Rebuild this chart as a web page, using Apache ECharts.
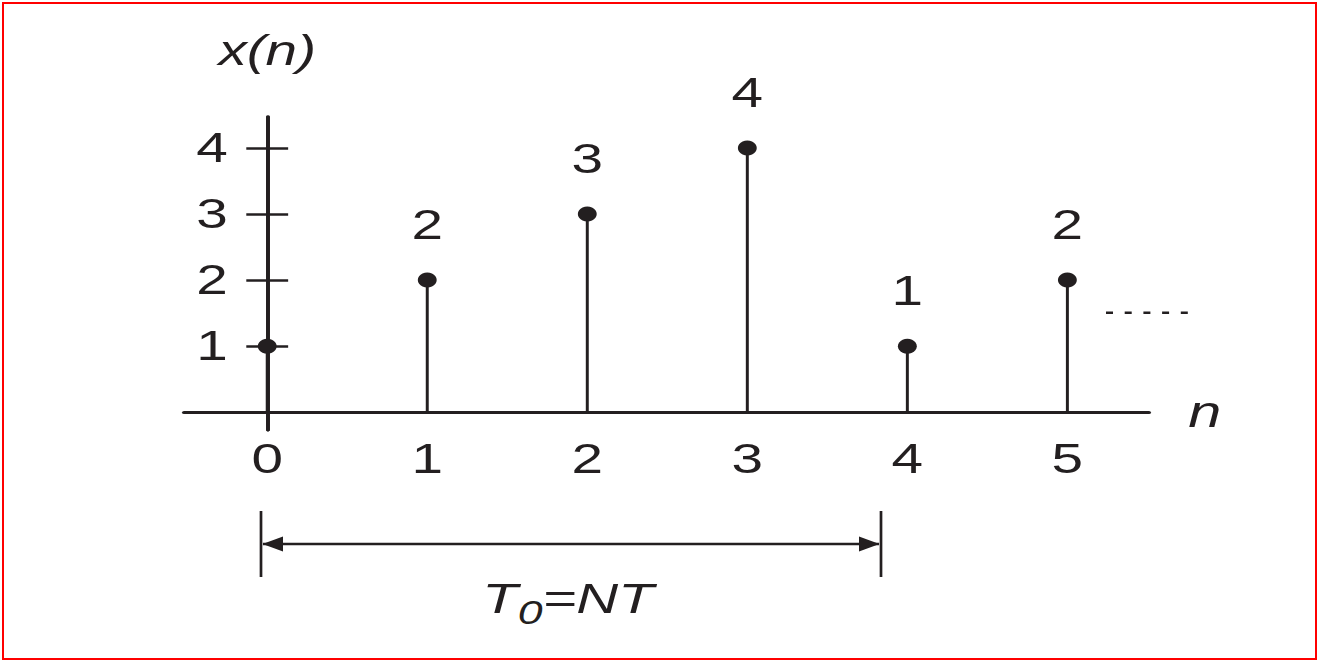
<!DOCTYPE html>
<html>
<head>
<meta charset="utf-8">
<title>x(n) stem plot</title>
<script src="https://cdn.jsdelivr.net/npm/echarts@6/dist/echarts.min.js"></script>
<style>
  html, body { margin: 0; padding: 0; background: #ffffff; }
  #chart { position: absolute; left: 0; top: 0; height: 660px; transform-origin: 0 0; }
  #frame { position: absolute; left: 2px; top: 2px; width: 1311px; height: 654px;
           border: 2px solid #ff0000; pointer-events: none; }
</style>
</head>
<body>
<div id="chart"></div>
<div id="frame"></div>
<script>
// Sample indices and the sequence values x(n)
const nValues = [0, 1, 2, 3, 4, 5];
const xValues = [1, 2, 3, 4, 1, 2];
// Tick labels
const xTickValues = [0, 1, 2, 3, 4, 5];
const yTickValues = [1, 2, 3, 4];
// Axis names and the period annotation
const yAxisName = 'x(n)';
const xAxisName = 'n';
const periodText = ['T', '0', '=NT'];

// The drawing is laid out narrow and widened horizontally as a whole.
const S = 1.35;
const W = 1317 / S;
const px = X => X / S;   // page x -> drawing x

const ink = '#231f20';
const font = '"Liberation Sans", Arial, Helvetica, sans-serif';

const gridLeft = px(184);
const gridRight = px(1149);
const stems = nValues.map((n, i) => [n, xValues[i]]);
// the sample at n = 0 sits on the vertical axis and carries no value label
const dots = stems.map(d => ({ value: d, label: { show: d[0] !== 0 } }));

const chartEl = document.getElementById('chart');
chartEl.style.width = W + 'px';
chartEl.style.transform = 'scaleX(' + S + ')';
const chart = echarts.init(chartEl, null, { renderer: 'svg', width: W, height: 660 });

const textBase = { fontFamily: font, color: ink };

const option = {
  animation: false,
  backgroundColor: '#ffffff',
  grid: {
    left: gridLeft, right: W - gridRight, top: 117, bottom: 230,
    outerBoundsMode: 'none'
  },
  xAxis: {
    type: 'value', min: -0.52, max: 5.51,
    axisLine: { show: true, onZero: true, lineStyle: { color: ink, width: 3 } },
    axisTick: { show: false },
    splitLine: { show: false },
    // labels are measured from the bottom edge of the grid
    axisLabel: Object.assign({ customValues: xTickValues, fontSize: 42, margin: 8 }, textBase),
    name: xAxisName, nameLocation: 'end', nameGap: 29,
    nameTextStyle: Object.assign({ fontSize: 44, fontStyle: 'italic', padding: [0, 0, 6, 0] }, textBase)
  },
  yAxis: [
    {
      type: 'value', min: -0.27, max: 4.47, position: 'left',
      axisLine: { show: true, onZero: true, lineStyle: { color: ink, width: 2.8 } },
      axisTick: { show: true, customValues: yTickValues, length: 15.5, lineStyle: { color: ink, width: 2.5 } },
      // labels are measured from the left edge of the grid
      axisLabel: Object.assign({ customValues: yTickValues, fontSize: 42, margin: -32.5 }, textBase),
      splitLine: { show: false },
      name: yAxisName, nameLocation: 'end', nameGap: 45,
      nameTextStyle: Object.assign({ fontSize: 42, fontStyle: 'italic' }, textBase)
    },
    {
      // right half of the crossing tick marks
      type: 'value', min: -0.27, max: 4.47, position: 'right',
      axisLine: { show: true, onZero: true, onZeroAxisIndex: 0, lineStyle: { color: ink, width: 2.8 } },
      axisTick: { show: true, customValues: yTickValues, length: 15.5, lineStyle: { color: ink, width: 2.5 } },
      axisLabel: { show: false },
      splitLine: { show: false }
    }
  ],
  series: [
    {
      type: 'bar', xAxisIndex: 0, yAxisIndex: 0,
      data: stems, barWidth: 2.2, silent: true,
      itemStyle: { color: ink, opacity: 1 }
    },
    {
      type: 'scatter', xAxisIndex: 0, yAxisIndex: 0,
      data: dots, symbol: 'circle', symbolSize: [14, 15], silent: true,
      itemStyle: { color: ink, opacity: 1 },
      label: Object.assign({
        show: true, position: 'inside', offset: [0, -55.5], fontSize: 42,
        formatter: p => String(p.value[1])
      }, textBase)
    }
  ],
  graphic: [
    // continuation dashes after the last sample
    { type: 'line', silent: true,
      shape: { x1: px(1106), y1: 312.7, x2: px(1188), y2: 312.7 },
      style: { stroke: ink, lineWidth: 2.5, lineDash: [7 / S, 11.7 / S] } },
    // period bracket
    { type: 'line', silent: true,
      shape: { x1: px(261), y1: 511, x2: px(261), y2: 577 },
      style: { stroke: ink, lineWidth: 2.7 / S } },
    { type: 'line', silent: true,
      shape: { x1: px(881), y1: 511, x2: px(881), y2: 577 },
      style: { stroke: ink, lineWidth: 2.7 / S } },
    { type: 'line', silent: true,
      shape: { x1: px(263), y1: 544, x2: px(879), y2: 544 },
      style: { stroke: ink, lineWidth: 2.5 } },
    { type: 'polygon', silent: true,
      shape: { points: [[px(262.5), 544], [px(283), 536.5], [px(283), 551.5]] },
      style: { fill: ink } },
    { type: 'polygon', silent: true,
      shape: { points: [[px(879.5), 544], [px(859), 536.5], [px(859), 551.5]] },
      style: { fill: ink } },
    // T0 = NT
    { type: 'text', silent: true,
      style: {
        x: px(568), y: 577,
        text: '{a|' + periodText[0] + '}{b|' + periodText[1] + '}{a|' + periodText[2] + '}',
        align: 'center', verticalAlign: 'top',
        rich: {
          a: { fontSize: 43, lineHeight: 43, fontStyle: 'italic', fontFamily: font, fill: ink, verticalAlign: 'top' },
          b: { fontSize: 33, lineHeight: 33, fontStyle: 'italic', fontFamily: font, fill: ink, verticalAlign: 'top',
               padding: [19, 0, 0, 0] }
        }
      } }
  ]
};

chart.setOption(option);
</script>
</body>
</html>
